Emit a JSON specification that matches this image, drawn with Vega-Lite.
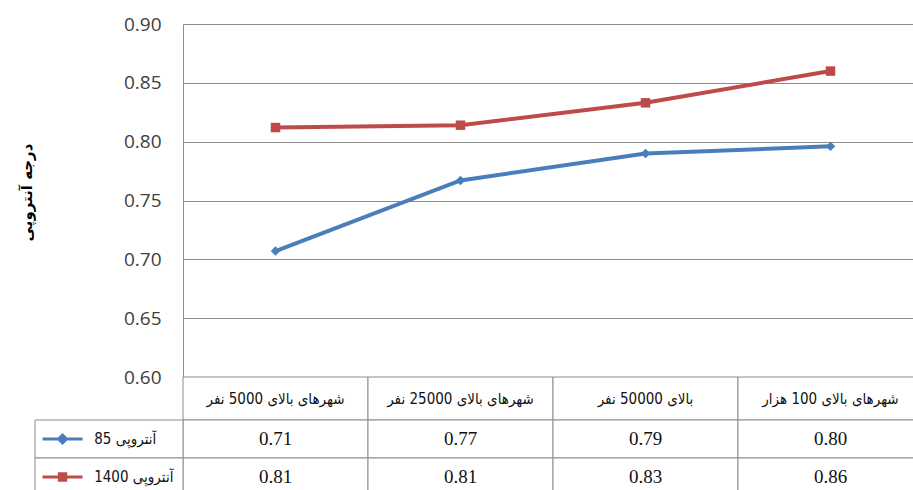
{
  "$schema": "https://vega.github.io/schema/vega-lite/v6.json",
  "autosize": "none",
  "width": 730,
  "height": 353,
  "padding": {"left": 183, "top": 24, "right": 0, "bottom": 113},
  "background": "white",
  "config": {"view": {"stroke": null}, "font": "DejaVu Sans"},
  "datasets": {
    "d": [
      {"city": "شهرهای بالای 5000 نفر", "series": "آنتروپی 85", "value": 0.707},
      {"city": "شهرهای بالای 25000 نفر", "series": "آنتروپی 85", "value": 0.767},
      {"city": "بالای 50000 نفر", "series": "آنتروپی 85", "value": 0.790},
      {"city": "شهرهای بالای 100 هزار", "series": "آنتروپی 85", "value": 0.796},
      {"city": "شهرهای بالای 5000 نفر", "series": "آنتروپی 1400", "value": 0.812},
      {"city": "شهرهای بالای 25000 نفر", "series": "آنتروپی 1400", "value": 0.814},
      {"city": "بالای 50000 نفر", "series": "آنتروپی 1400", "value": 0.833},
      {"city": "شهرهای بالای 100 هزار", "series": "آنتروپی 1400", "value": 0.860}
    ],
    "cities": [
      {"city": "شهرهای بالای 5000 نفر"},
      {"city": "شهرهای بالای 25000 نفر"},
      {"city": "بالای 50000 نفر"},
      {"city": "شهرهای بالای 100 هزار"}
    ],
    "series": [
      {"series": "آنتروپی 85"},
      {"series": "آنتروپی 1400"}
    ]
  },
  "resolve": {
    "scale": {"x": "independent", "y": "independent", "shape": "independent", "color": "independent", "fill": "independent", "stroke": "independent"},
    "axis": {"x": "independent", "y": "independent"}
  },
  "layer": [
    {
      "data": {"name": "d"},
      "encoding": {
        "x": {"field": "city", "type": "nominal", "sort": null,
          "scale": {"type": "band", "domain": ["شهرهای بالای 5000 نفر", "شهرهای بالای 25000 نفر", "بالای 50000 نفر", "شهرهای بالای 100 هزار"], "range": [0, 740], "paddingInner": 0, "paddingOuter": 0},
          "axis": null},
        "y": {"field": "value", "type": "quantitative",
          "scale": {"domain": [0.6, 0.9], "zero": false, "nice": false},
          "axis": {
            "values": [0.6, 0.65, 0.7, 0.75, 0.8, 0.85, 0.9], "format": ".2f",
            "grid": true, "gridColor": "#8c8c8c", "gridWidth": 1,
            "domain": true, "domainColor": "#8c8c8c", "ticks": false,
            "labelPadding": 22, "labelFontSize": 19, "labelFont": "Open Sans", "labelColor": "#404040",
            "title": "درجه آنتروپی", "titleFont": "DejaVu Sans", "titleFontWeight": "bold", "titleFontSize": 15,
            "titleColor": "#000000", "titleAngle": -90, "titleX": -157, "titleY": 168, "titleAlign": "center", "titleBaseline": "middle"
          }},
        "color": {"field": "series", "type": "nominal",
          "scale": {"domain": ["آنتروپی 85", "آنتروپی 1400"], "range": ["#4a7ebb", "#be4b48"]}, "legend": null}
      },
      "layer": [
        {"mark": {"type": "line", "strokeWidth": 4}},
        {"mark": {"type": "point", "filled": true, "opacity": 1, "size": 90},
          "encoding": {"shape": {"field": "series", "type": "nominal",
            "scale": {"domain": ["آنتروپی 85", "آنتروپی 1400"], "range": ["diamond", "square"]}, "legend": null}}}
      ]
    },
    {
      "data": {"name": "cities"},
      "encoding": {
        "x": {"field": "city", "type": "nominal", "sort": null,
          "scale": {"type": "band", "domain": ["شهرهای بالای 5000 نفر", "شهرهای بالای 25000 نفر", "بالای 50000 نفر", "شهرهای بالای 100 هزار"], "range": [0, 740], "paddingInner": 0, "paddingOuter": 0},
          "axis": null},
        "y": {"datum": "h", "type": "nominal",
          "scale": {"type": "band", "domain": ["h"], "range": [353, 396], "paddingInner": 0, "paddingOuter": 0}, "axis": null}
      },
      "layer": [
        {"mark": {"type": "rect", "fill": "white", "stroke": "#8c8c8c", "strokeWidth": 1}},
        {"mark": {"type": "text", "fontSize": 15, "font": "DejaVu Sans Condensed", "color": "#111111"},
          "encoding": {"text": {"field": "city", "type": "nominal"}}}
      ]
    },
    {
      "data": {"name": "d"},
      "encoding": {
        "x": {"field": "city", "type": "nominal", "sort": null,
          "scale": {"type": "band", "domain": ["شهرهای بالای 5000 نفر", "شهرهای بالای 25000 نفر", "بالای 50000 نفر", "شهرهای بالای 100 هزار"], "range": [0, 740], "paddingInner": 0, "paddingOuter": 0},
          "axis": null},
        "y": {"field": "series", "type": "nominal",
          "scale": {"type": "band", "domain": ["آنتروپی 85", "آنتروپی 1400"], "range": [396, 472], "paddingInner": 0, "paddingOuter": 0}, "axis": null}
      },
      "layer": [
        {"mark": {"type": "rect", "fill": "white", "stroke": "#8c8c8c", "strokeWidth": 1}},
        {"mark": {"type": "text", "fontSize": 19, "font": "Liberation Sans Narrow", "color": "#111111"},
          "encoding": {"text": {"field": "value", "type": "quantitative", "format": ".2f"}}}
      ]
    },
    {
      "data": {"name": "series"},
      "encoding": {
        "x": {"datum": "k", "type": "nominal",
          "scale": {"type": "band", "domain": ["k"], "range": [-148, 0], "paddingInner": 0, "paddingOuter": 0}, "axis": null},
        "y": {"field": "series", "type": "nominal",
          "scale": {"type": "band", "domain": ["آنتروپی 85", "آنتروپی 1400"], "range": [396, 472], "paddingInner": 0, "paddingOuter": 0}, "axis": null}
      },
      "layer": [
        {"mark": {"type": "rect", "fill": "white", "stroke": "#8c8c8c", "strokeWidth": 1}},
        {"mark": {"type": "point", "filled": true, "opacity": 1, "size": 1600, "strokeWidth": 3},
          "encoding": {
            "x": {"datum": "k", "type": "nominal", "bandPosition": 0.186,
              "scale": {"type": "band", "domain": ["k"], "range": [-148, 0], "paddingInner": 0, "paddingOuter": 0}, "axis": null},
            "shape": {"field": "series", "type": "nominal",
              "scale": {"domain": ["آنتروپی 85", "آنتروپی 1400"], "range": ["M-1,0L1,0M0,-0.2L0.2,0L0,0.2L-0.2,0Z", "M-1,0L1,0M-0.16,-0.16L0.16,-0.16L0.16,0.16L-0.16,0.16Z"]}, "legend": null},
            "fill": {"field": "series", "type": "nominal",
              "scale": {"domain": ["آنتروپی 85", "آنتروپی 1400"], "range": ["#4a7ebb", "#be4b48"]}, "legend": null},
            "stroke": {"field": "series", "type": "nominal",
              "scale": {"domain": ["آنتروپی 85", "آنتروپی 1400"], "range": ["#4a7ebb", "#be4b48"]}, "legend": null}
          }},
        {"mark": {"type": "text", "align": "left", "fontSize": 15, "font": "DejaVu Sans Condensed", "color": "#111111"},
          "encoding": {
            "x": {"datum": "k", "type": "nominal", "bandPosition": 0.4,
              "scale": {"type": "band", "domain": ["k"], "range": [-148, 0], "paddingInner": 0, "paddingOuter": 0}, "axis": null},
            "text": {"field": "series", "type": "nominal"}
          }}
      ]
    }
  ]
}
